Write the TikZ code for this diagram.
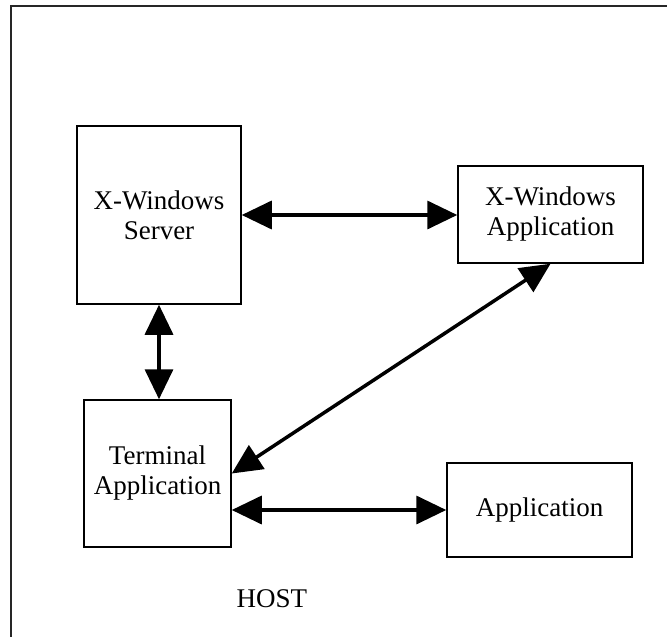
\documentclass[tikz,border=0pt]{standalone}
\usepackage{fontspec}
\setmainfont{Liberation Serif}
\usetikzlibrary{arrows.meta}
\tikzset{
	unit/.style={draw, line width=1.5pt, align=center, inner sep=0pt,
		font=\fontsize{27}{30}\selectfont},
	link/.style={line width=3.5pt, {Triangle[length=30pt,width=28pt]}-{Triangle[length=30pt,width=28pt]}}
}

\begin{document}
\begin{tikzpicture}[x=1pt, y=-1pt]
			%%%%% START %%%%%
			\clip (0, 0) rectangle (667, 637);
			\draw[line width=2pt, black!85] (11, 6) rectangle (690, 660);
			
			\node[unit, minimum width=164pt, minimum height=178pt] (srv) at (159, 215) {X-Windows\\Server};
			\node[unit, minimum width=185pt, minimum height=97pt] (xapp) at (550.5, 214.5) {X-Windows\\Application};
			\node[unit, minimum width=147pt, minimum height=147pt] (term) at (157.5, 473.5) {Terminal\\Application};
			\node[unit, minimum width=185pt, minimum height=94pt] (app) at (539.5, 510) {Application};
			
			\node[font=\fontsize{27}{30}\selectfont, anchor=base] (host) at (272, 607) {HOST};
			
			\draw[link] (srv.east) -- (srv.east -| xapp.west);
			\draw[link] (srv.south) -- (srv.south |- term.north);
			\draw[link] (xapp.south) -- (term.east);
			\draw[link] (term.east |- app.west) -- (app.west);
			%%%%% END %%%%%
		\end{tikzpicture}
\end{document}
